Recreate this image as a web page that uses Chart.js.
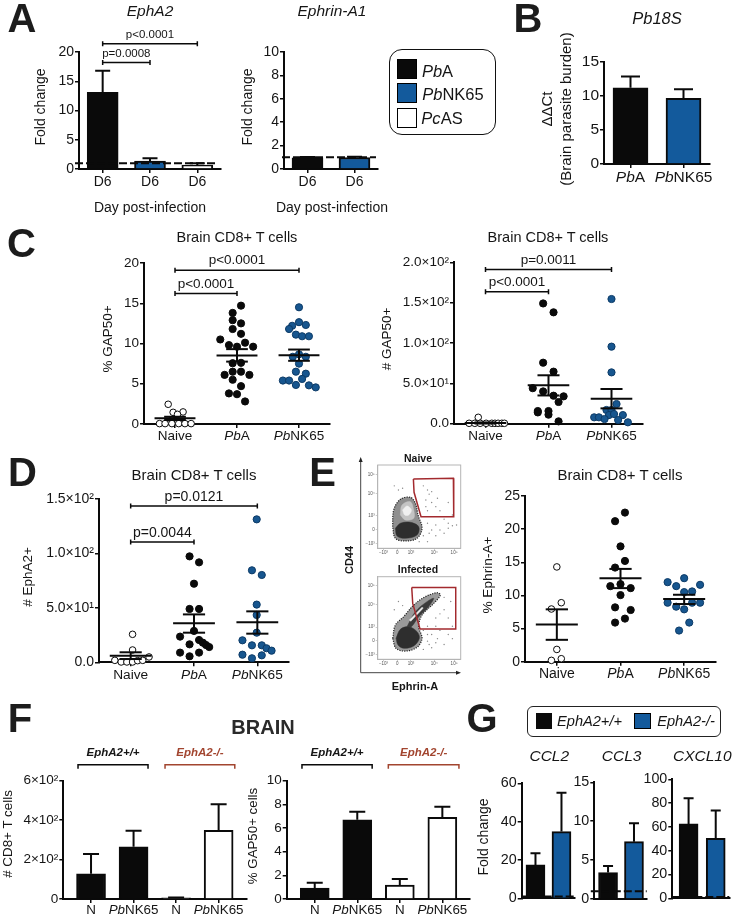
<!DOCTYPE html>
<html><head><meta charset="utf-8">
<script src="https://cdn.jsdelivr.net/npm/chart.js@4/dist/chart.umd.js"></script>
<style>
html,body{margin:0;padding:0;background:#fff;width:733px;height:916px;overflow:hidden}
body{position:relative;font-family:'Liberation Sans',Arial,sans-serif;color:#151515}
canvas{position:absolute;left:0;top:0;pointer-events:none}
.t{position:absolute;white-space:nowrap;line-height:1;z-index:5}
.box{position:absolute;box-sizing:border-box;z-index:4}
</style></head><body>
<script>
/* ---------- categories ---------- */
const dayCats3=['D6','D6','D6'], dayCats2=['D6','D6'];
const strainCats=['*Pb*A','*Pb*NK65'];
const groupCats=['Naive','*Pb*A','*Pb*NK65'];
const brainCats=['N','*Pb*NK65','N','*Pb*NK65'];
/* ---------- A ---------- */
const ephA2Vals=[13.1,1.36,0.68], ephA2Err=[16.8,1.82,0.97];
const ephrinA1Vals=[0.95,0.98], ephrinA1Err=[1.02,1.05];
/* ---------- B ---------- */
const pb18sVals=[11.2,9.65], pb18sErr=[12.85,11.0];
/* ---------- C left: % GAP50+ ---------- */
const pctNaive=[2.45,1.45,1.5,1.2,0.5,0.05,0.05,0.05,0.05,0.05,0.05];
const pctNaiveJit=[-.11,-.03,.13,.04,-.05,-.25,-.16,-.05,.06,.16,.26];
const pctPbA=[14.7,13.8,12.9,12.5,11.8,11.2,10.5,10.1,9.8,9.6,9.6,7.55,7.6,6.5,6.5,6.1,6.1,5.5,4.7,3.8,3.7,2.8];
const pctPbAJit=[.065,-.07,-.07,.065,-.07,.065,-.27,.13,-.13,0,.26,-.07,.065,-.07,.065,-.2,.2,-.07,.065,-.13,0,.13];
const pctNK=[14.5,12.65,12.3,12.2,11.8,11.1,10.9,10.9,8.35,8.65,8.35,7.5,6.5,6.25,5.6,5.4,5.4,4.85,4.8,4.55];
const pctNKJit=[0,0,.11,-.11,-.16,-.05,.05,.16,-.1,0,.11,0,-.05,.11,.05,-.26,-.16,-.05,.16,.27];
const pctMean=[0.7,8.5,8.55], pctLow=[0.5,7.75,7.85], pctHigh=[0.9,9.3,9.25];
/* ---------- C right: # GAP50+ ---------- */
const numNaive=[7.9,.5,.5,.5,.5,.5,.5,.5,.5,.5];
const numNaiveJit=[-.115,-.26,-.17,-.085,.01,.1,.15,.2,.26,.3];
const numPbA=[149,138,75.6,64.5,44,40,34.7,33.9,26.9,15.7,14,15.7,11.2,2.9];
const numPbAJit=[-.085,.08,-.085,.08,-.25,-.085,.08,.24,.16,-.17,-.17,0,0,.16];
const numNK=[154.5,95.5,63.6,24.4,17,17,10.7,12,10.7,7.9,7.9,5.8,4.5,1.7];
const numNKJit=[0,0,0,.08,-.08,0,-.04,.04,.18,-.275,-.2,-.11,.105,.26];
const numMean=[0.9,47.5,31], numLow=[0.2,35,19], numHigh=[1.6,60,43];
const sci2Labels=['0.0','5.0×10¹','1.0×10²','1.5×10²','2.0×10²'];
/* ---------- D: # EphA2+ ---------- */
const ephNaive=[25.7,11.3,4.9,1.8,.3,.3,.3,1.5,1.8];
const ephNaiveJit=[.03,.03,.29,-.25,-.15,-.06,.03,.11,.19];
const ephPbA=[97.3,91.8,72.2,49,49,28.8,23.6,16.5,20.5,18,15.9,14,8.9,8.9,5.5];
const ephPbAJit=[-.07,.08,0,-.07,.08,0,-.22,-.07,.08,.14,.19,.24,-.22,.08,-.07];
const ephNK=[131.3,84.5,80.2,53,43.5,27.2,20.2,15.6,15.6,12.9,10.7,7,6.4,3.7];
const ephNKJit=[-.01,-.085,.07,-.01,-.01,-.01,-.235,-.085,.07,.145,.225,-.235,.07,-.085];
const ephMean=[6.1,35.8,36.7], ephLow=[3,27.2,26.3], ephHigh=[9.2,44,46.8];
const sci15Labels=['0.0','5.0×10¹','1.0×10²','1.5×10²'];
/* ---------- E: % Ephrin-A+ ---------- */
const efnNaive=[14.3,8.9,7.95,1.85,.45,.2];
const efnNaiveJit=[0,.07,-.085,0,.07,-.085];
const efnPbA=[22.5,21.2,17.4,15.2,14.2,11.7,11.4,11.1,10.05,8.2,7.8,6.5,5.9];
const efnPbAJit=[.07,-.085,0,.07,-.085,0,-.16,.16,0,-.085,.16,.07,-.085];
const efnNK=[12.6,12,11.6,11.4,10.5,10.6,8.9,8.3,7.9,8.9,8.9,5.9,4.7];
const efnNKJit=[0,-.26,.25,-.125,0,.125,-.26,-.125,0,.125,.25,.08,-.08];
const efnMean=[5.63,12.6,9.45], efnLow=[3.3,11.1,8.7], efnHigh=[7.9,14,10.1];
/* ---------- E: flow cytometry gates and contours ---------- */
const flowXLabels=['−10³','0','10³','10⁴','10⁵'], flowYLabels=['−10³','0','10³','10⁴','10⁵'];
const flowXTicks=[7,23.7,40,68,92], flowYTicks=[6,22.8,38.8,66,88.8];
const naiveGate=[[43,83.2],[91.2,84],[91.6,38],[52.2,38],[43.8,67.2],[43,83.2]];
const naiveOuter=[[18,26],[19.3,46],[27.3,58.8],[39.4,61.2],[45.4,54],[48.6,40],[53.4,24],[47.4,12],[33.3,8.8],[21.3,12],[18,26]];
const naiveDark=[[21.3,24],[27.3,30],[39.3,31.2],[49.4,26],[47.4,16],[33.3,12],[23.3,14.8],[21.3,24]];
const naiveUpper=[[27.3,40],[29.3,52],[39.3,56],[43.4,46],[43.4,36],[33.3,34],[27.3,40]];
const naiveInner=[[30,46],[35.3,50.8],[40.6,46],[37.4,40],[32.5,40],[30,46]];
const naiveDots=[[25,70],[20,75],[30,72],[55,75],[60,70],[62,65],[65,68],[58,58],[65,55],[70,50],[75,45],[60,45],[80,35],[85,30],[70,28],[75,22],[85,24],[90,27],[60,30],[65,22],[55,15],[62,18],[70,15],[80,18],[58,50],[72,60],[85,55],[90,40],[95,28],[50,8],[60,8]];
const infGate=[[41,87],[94,87],[94,36.7],[51,36.7],[42.2,67.7],[41,87]];
const infOuter=[[18.1,25.4],[21.3,41.5],[31.3,51.6],[43.4,65.7],[57.4,75.8],[71.5,80.6],[75.5,77.8],[67.5,67.7],[53.4,53.6],[49.4,39.5],[53.4,25.4],[47.4,14.5],[33.3,10],[22.1,13.3],[18.1,25.4]];
const infDark=[[22.1,25.4],[27.3,36.3],[37.3,39.5],[47.4,33.5],[50.2,25.4],[43.4,16.1],[31.3,13.3],[24.5,17.3],[22.1,25.4]];
const infBand=[[35.3,39.5],[45.4,57.7],[59.4,69.8],[67.5,73.8],[61.4,63.7],[49.4,51.6],[40.6,39.5],[35.3,39.5]];
const infStreak=[[38.2,47.6],[53.4,62.9],[54.2,61.3],[39.8,46],[38.2,47.6]];
const infDots=[[60,40],[70,50],[80,60],[85,50],[75,35],[65,30],[85,30],[90,25],[60,22],[70,20],[80,18],[55,12],[65,14],[88,70],[80,75],[25,70],[30,65],[20,60],[60,30],[70,40],[55,35],[75,55],[90,40],[62,18],[72,25]];
/* ---------- F ---------- */
const cd8Vals=[128,265,6,348], cd8Err=[228,346,8,480];
const cd8Labels=['0','2×10²','4×10²','6×10²'];
const gapVals=[0.93,6.7,1.18,6.9], gapErr=[1.38,7.38,1.69,7.8];
/* ---------- G ---------- */
const ccl2Vals=[17.4,34.8], ccl2Err=[23.5,55.1];
const ccl3Vals=[3.4,7.37], ccl3Err=[4.25,9.73];
const cxcl10Vals=[62.5,50.4], cxcl10Err=[84,73.7];

/* ---------- styling ---------- */
const FONT="'Liberation Sans',Arial,sans-serif";
const BLACK='#0a0a0a', BLUE='#135a9c', WHITE='#ffffff', DOTBLUE='#17568f';
const INK='#151515', RED='#a2452f';

function label(x,y,html,o={}){
  const d=document.createElement('div');d.className='t';d.innerHTML=html;
  d.style.left=x+'px';d.style.top=y+'px';
  d.style.fontSize=(o.size||14)+'px';
  if(o.weight)d.style.fontWeight=o.weight;
  if(o.italic)d.style.fontStyle='italic';
  if(o.color)d.style.color=o.color;
  d.style.transform='translate(-50%,-50%)'+(o.rot?` rotate(${o.rot}deg)`:'');
  document.body.appendChild(d);
}
function box(x,y,w,h,o={}){
  const d=document.createElement('div');d.className='box';
  Object.assign(d.style,{left:x+'px',top:y+'px',width:w+'px',height:h+'px',
    background:o.bg||'transparent',border:o.border||'none',borderRadius:(o.radius||0)+'px'});
  document.body.appendChild(d);
}
function richText(ctx,str,cx,cy,size){
  const parts=str.split('*').map((s,i)=>({s,it:i%2===1})).filter(p=>p.s);
  let w=0;parts.forEach(p=>{ctx.font=`${p.it?'italic ':''}${size}px ${FONT}`;p.w=ctx.measureText(p.s).width;w+=p.w});
  let x=cx-w/2;ctx.textAlign='left';ctx.textBaseline='middle';ctx.fillStyle=INK;
  parts.forEach(p=>{ctx.font=`${p.it?'italic ':''}${size}px ${FONT}`;ctx.fillText(p.s,x,cy);x+=p.w});
}
function deco(spec){return{id:'deco',afterDraw(chart){
  const {ctx,scales:{x,y},chartArea:ca}=chart;ctx.save();
  ctx.strokeStyle=BLACK;ctx.lineCap='butt';
  if(spec.frame){ctx.strokeStyle='#b5b5b5';ctx.lineWidth=1;ctx.strokeRect(ca.left,ca.top,ca.right-ca.left,ca.bottom-ca.top);ctx.strokeStyle=BLACK}
  (spec.err||[]).forEach((v,i)=>{
    const px=x.getPixelForValue(i),p0=y.getPixelForValue(spec.vals[i]),p1=y.getPixelForValue(v);
    ctx.lineWidth=2;ctx.beginPath();ctx.moveTo(px,p0);ctx.lineTo(px,p1);
    ctx.moveTo(px-spec.cap,p1);ctx.lineTo(px+spec.cap,p1);ctx.stroke();
  });
  if(spec.ref){ctx.setLineDash([8,3]);ctx.lineWidth=2;const p=y.getPixelForValue(spec.ref.y);
    ctx.beginPath();ctx.moveTo(ca.left+spec.ref.l,p);ctx.lineTo(ca.right+spec.ref.r,p);ctx.stroke();ctx.setLineDash([])}
  if(spec.stats){spec.stats.mean.forEach((m,i)=>{ctx.lineWidth=2;
    const h=(a,b,v)=>{ctx.beginPath();ctx.moveTo(x.getPixelForValue(i+a),y.getPixelForValue(v));ctx.lineTo(x.getPixelForValue(i+b),y.getPixelForValue(v));ctx.stroke()};
    h(-.33,.33,m);h(-.175,.175,spec.stats.low[i]);h(-.175,.175,spec.stats.high[i]);
    const px=x.getPixelForValue(i);ctx.beginPath();ctx.moveTo(px,y.getPixelForValue(spec.stats.low[i]));ctx.lineTo(px,y.getPixelForValue(spec.stats.high[i]));ctx.stroke();
  })}
  (spec.brackets||[]).forEach(b=>{
    const xa=x.getPixelForValue(b.a),xb=x.getPixelForValue(b.b),py=y.getPixelForValue(b.y);
    ctx.strokeStyle=b.color||BLACK;ctx.lineWidth=1.5;ctx.beginPath();
    if(b.group){ctx.moveTo(xa,py+4);ctx.lineTo(xa,py);ctx.lineTo(xb,py);ctx.lineTo(xb,py+4)}
    else{ctx.moveTo(xa,py-2.5);ctx.lineTo(xa,py+2.5);ctx.moveTo(xa,py);ctx.lineTo(xb,py);ctx.moveTo(xb,py-2.5);ctx.lineTo(xb,py+2.5)}
    ctx.stroke();
    ctx.fillStyle=b.color||INK;ctx.textAlign='center';ctx.textBaseline='middle';
    ctx.font=`${b.group?'italic bold ':''}${b.size}px ${FONT}`;
    ctx.fillText(b.text,(xa+xb)/2+(b.shift||0),py-b.dy);
  });
  if(spec.cats)spec.cats.forEach((c,i)=>richText(ctx,c,x.getPixelForValue(i),ca.bottom+spec.catDy,spec.catSize));
  ctx.restore();
}}}
function baseOpts(rect,o){
  const [l,t,r,b]=rect;
  return{responsive:false,animation:false,maintainAspectRatio:false,
    layout:{padding:{left:0,top:t,right:733-r,bottom:0}},
    plugins:{legend:{display:false},tooltip:{enabled:false},title:{display:false}},
    scales:{
      x:{type:'linear',min:o.xmin,max:o.xmax,offset:false,
        afterBuildTicks:s=>{s.ticks=(o.xTicks||[]).map(v=>({value:v}))},
        afterFit:s=>{s.height=916-b},
        border:{color:o.axis||BLACK,width:o.axisW||2},
        grid:{offset:false,drawOnChartArea:false,drawTicks:o.noXTicks?false:true,tickLength:o.xTickLen||4,color:o.axis||BLACK,lineWidth:o.tickW||1.5},
        ticks:o.xLabels?{display:true,autoSkip:false,maxRotation:0,font:{size:o.tickFont,family:FONT},color:'#555',padding:0,callback:(v,i)=>o.xLabels[i]}:{display:false}},
      y:{type:'linear',min:0,max:o.ymax,
        afterBuildTicks:s=>{s.ticks=o.yTicks.map(v=>({value:v}))},
        afterFit:s=>{s.width=l},
        border:{color:o.axis||BLACK,width:o.axisW||2},
        grid:{drawOnChartArea:false,drawTicks:true,tickLength:o.yTickLen||4,color:o.axis||BLACK,lineWidth:o.tickW||1.5},
        ticks:{autoSkip:false,font:{size:o.tickFont,family:FONT},color:o.tickColor||INK,padding:o.tickPad??1,
          callback:(v,i)=>o.yLabels?o.yLabels[i]:String(v)}}
    }};
}
function mkCanvas(){const c=document.createElement('canvas');c.width=733;c.height=916;c.style.width='733px';c.style.height='916px';document.body.appendChild(c);return c}

function barChart(o){
  const n=o.vals.length;
  new Chart(mkCanvas(),{type:'bar',
    data:{datasets:[{data:o.vals.map((v,i)=>({x:i,y:v})),backgroundColor:o.colors,borderColor:BLACK,borderWidth:2,barThickness:o.thick,borderSkipped:'bottom'}]},
    options:baseOpts(o.rect,{xmin:o.xmin??-.5,xmax:o.xmax??n-.5,xTicks:o.noXTicks?[]:[...Array(n).keys()],noXTicks:o.noXTicks,ymax:o.ymax,yTicks:o.yTicks,yLabels:o.yLabels,tickFont:o.tickFont}),
    plugins:[deco({err:o.err,vals:o.vals,cap:o.cap,ref:o.ref,brackets:o.brackets,cats:o.cats,catDy:o.catDy,catSize:o.catSize})]});
}
function dotChart(o){
  const ds=o.groups.map((g,i)=>({data:g.vals.map((v,k)=>({x:i+g.jit[k],y:v})),
    backgroundColor:g.fill,borderColor:g.edge,borderWidth:1,pointRadius:g.r,clip:false}));
  new Chart(mkCanvas(),{type:'scatter',data:{datasets:ds},
    options:baseOpts(o.rect,{xmin:-.5,xmax:2.5,xTicks:[0,1,2],ymax:o.ymax,yTicks:o.yTicks,yLabels:o.yLabels,tickFont:o.tickFont}),
    plugins:[deco({stats:o.stats,brackets:o.brackets,cats:o.cats,catDy:o.catDy,catSize:o.catSize})]});
}
const naiveStyle={fill:WHITE,edge:BLACK,r:3.3}, pbaStyle={fill:BLACK,edge:BLACK,r:3.6}, nkStyle={fill:DOTBLUE,edge:'#0c3a66',r:3.6};
const poly=(pts,fill,tension=.35,edge)=>({data:pts.map(p=>({x:p[0],y:p[1]})),showLine:true,fill:'shape',backgroundColor:fill,borderColor:edge||fill,borderWidth:edge?1.2:.5,borderDash:edge?[1.2,1.2]:[],pointRadius:0,tension,clip:false});
function flowChart(rect,shapes,gate,dots){
  /* Chart.js paints the first dataset last, so the list runs top layer first */
  const ds=[{data:gate.map(p=>({x:p[0],y:p[1]})),showLine:true,borderColor:'#a32a2e',borderWidth:1.5,pointRadius:0,backgroundColor:'transparent',fill:false},
    ...shapes,
    {data:dots.map(p=>({x:p[0],y:p[1]})),backgroundColor:'#8a8a8a',borderColor:'#8a8a8a',pointRadius:.7,borderWidth:0}];
  new Chart(mkCanvas(),{type:'scatter',data:{datasets:ds},
    options:baseOpts(rect,{xmin:0,xmax:100,xTicks:flowXTicks,xLabels:flowXLabels,ymax:100,yTicks:flowYTicks,yLabels:flowYLabels,tickFont:4.5,axis:'#b5b5b5',axisW:1,tickW:.7,xTickLen:2,yTickLen:2,tickColor:'#555',tickPad:1}),
    plugins:[deco({frame:true})]});
}

/* ---------- Panel letters ---------- */
[['A',22,18],['B',528,18],['C',21.5,242.5],['D',22.5,472],['E',322.5,472],['F',20,718],['G',482,718]]
  .forEach(p=>label(p[1],p[2],p[0],{size:40,weight:'bold',color:'#1c1c1c'}));

/* ---------- A ---------- */
label(150,11,'EphA2',{size:15.5,italic:true});
label(332,11,'Ephrin-A1',{size:15.5,italic:true});
label(40,106.7,'Fold change',{size:14,rot:-90});
label(246.7,106.7,'Fold change',{size:14,rot:-90});
label(150,206.7,'Day post-infection',{size:14});
label(332,206.7,'Day post-infection',{size:14});
barChart({rect:[79,52,221,169],vals:ephA2Vals,err:ephA2Err,colors:[BLACK,BLUE,WHITE],thick:31,cap:7.5,ymax:20,yTicks:[0,5,10,15,20],tickFont:14,
  ref:{y:1,l:-4,r:-3},cats:dayCats3,catDy:12.7,catSize:14,
  brackets:[{a:0,b:1,y:18.2,text:'p=0.0008',dy:9,size:11.5},{a:0,b:2,y:21.4,text:'p<0.0001',dy:9,size:11.5}]});
barChart({rect:[284,52,378,169],vals:ephrinA1Vals,err:ephrinA1Err,colors:[BLACK,BLUE],thick:31,cap:7.5,ymax:10,yTicks:[0,2,4,6,8,10],tickFont:14,
  ref:{y:1,l:-2,r:-2},cats:dayCats2,catDy:12.7,catSize:14});

/* ---------- Legend ---------- */
box(389,49,107,86,{border:'1.5px solid #111',radius:13});
box(397,59,19.5,19.5,{bg:BLACK,border:'1px solid #000'});
box(397,83,19.5,20,{bg:BLUE,border:'1.5px solid #000'});
box(397,108,19.5,19.5,{bg:WHITE,border:'1.5px solid #000'});
label(437.5,71,'<i>Pb</i>A',{size:16.5});
label(453,94,'<i>Pb</i>NK65',{size:16.5});
label(442,118,'<i>Pc</i>AS',{size:16.5});

/* ---------- B ---------- */
label(657,18,'Pb18S',{size:16.5,italic:true});
label(546,109,'ΔΔCt',{size:15,rot:-90});
label(565,109,'(Brain parasite burden)',{size:15,rot:-90});
barChart({rect:[604,62,710,164],vals:pb18sVals,err:pb18sErr,colors:[BLACK,BLUE],thick:35,cap:9.5,ymax:15,yTicks:[0,5,10,15],tickFont:15.5,
  cats:strainCats,catDy:14,catSize:15.5});

/* ---------- C ---------- */
label(237,237,'Brain CD8+ T cells',{size:14.5});
label(548,237,'Brain CD8+ T cells',{size:14.5});
label(108,339,'% GAP50+',{size:13.5,rot:-90});
label(387,339,'# GAP50+',{size:13.5,rot:-90});
dotChart({rect:[144,263,330,424],ymax:20,yTicks:[0,5,10,15,20],tickFont:13.5,cats:groupCats,catDy:12.7,catSize:13.5,
  groups:[{vals:pctNaive,jit:pctNaiveJit,...naiveStyle},{vals:pctPbA,jit:pctPbAJit,...pbaStyle},{vals:pctNK,jit:pctNKJit,...nkStyle}],
  stats:{mean:pctMean,low:pctLow,high:pctHigh},
  brackets:[{a:0,b:1,y:16.2,text:'p<0.0001',dy:9.5,size:13.5},{a:0,b:2,y:19.1,text:'p<0.0001',dy:9.5,size:13.5}]});
dotChart({rect:[454,262.3,643,423.7],ymax:200,yTicks:[0,50,100,150,200],yLabels:sci2Labels,tickFont:13.5,cats:groupCats,catDy:12.7,catSize:13.5,
  groups:[{vals:numNaive,jit:numNaiveJit,...naiveStyle},{vals:numPbA,jit:numPbAJit,...pbaStyle},{vals:numNK,jit:numNKJit,...nkStyle}],
  stats:{mean:numMean,low:numLow,high:numHigh},
  brackets:[{a:0,b:1,y:163.6,text:'p<0.0001',dy:9,size:13.5},{a:0,b:2,y:191,text:'p=0.0011',dy:9.5,size:13.5}]});

/* ---------- D ---------- */
label(194,474,'Brain CD8+ T cells',{size:15});
label(28,577,'# EphA2+',{size:13.5,rot:-90});
dotChart({rect:[99,499,289,662.3],ymax:150,yTicks:[0,50,100,150],yLabels:sci15Labels,tickFont:14,cats:groupCats,catDy:12.7,catSize:13.7,
  groups:[{vals:ephNaive,jit:ephNaiveJit,...naiveStyle},{vals:ephPbA,jit:ephPbAJit,...pbaStyle},{vals:ephNK,jit:ephNKJit,...nkStyle}],
  stats:{mean:ephMean,low:ephLow,high:ephHigh},
  brackets:[{a:0,b:1,y:110.5,text:'p=0.0044',dy:8.7,size:14},{a:0,b:2,y:143.5,text:'p=0.0121',dy:9,size:14}]});

/* ---------- E flow ---------- */
label(418,458,'Naive',{size:10.5,weight:'bold'});
label(418,569,'Infected',{size:10.5,weight:'bold'});
label(349,560,'CD44',{size:11,weight:'bold',rot:-90});
label(415,686,'Ephrin-A',{size:11,weight:'bold'});
flowChart([377.7,465,460.7,548.3],[poly(naiveInner,'#f0f0f0'),poly(naiveUpper,'#c4c4c4'),poly(naiveDark,'#2e2e2e'),poly(naiveOuter,'#8f8f8f',.35,'#222')],naiveGate,naiveDots);
flowChart([377.7,576.7,460.7,659.3],[poly(infStreak,'#eeeeee',0),poly(infBand,'#3a3a3a'),poly(infDark,'#2e2e2e'),poly(infOuter,'#9a9a9a',.35,'#222')],infGate,infDots);
document.body.insertAdjacentHTML('beforeend',`<svg style="position:absolute;left:0;top:0;z-index:3" width="733" height="916">
<path d="M360.7 672.7V461M360.7 672.7H457" stroke="#444" stroke-width="1" fill="none"/>
<path d="M360.7 457l-2 5h4zM461 672.7l-5-2v4z" fill="#222"/></svg>`);

/* ---------- E right ---------- */
label(620,474,'Brain CD8+ T cells',{size:15});
label(488,575,'% Ephrin-A+',{size:13.7,rot:-90});
dotChart({rect:[525,496,716,661.7],ymax:25,yTicks:[0,5,10,15,20,25],tickFont:14,cats:groupCats,catDy:12.6,catSize:14,
  groups:[{vals:efnNaive,jit:efnNaiveJit,...naiveStyle},{vals:efnPbA,jit:efnPbAJit,...pbaStyle},{vals:efnNK,jit:efnNKJit,...nkStyle}],
  stats:{mean:efnMean,low:efnLow,high:efnHigh}});

/* ---------- F ---------- */
label(263,726.7,'BRAIN',{size:20,weight:'bold',color:'#2a2a2a'});
label(7.5,834,'# CD8+ T cells',{size:13.4,rot:-90});
label(253,835.7,'% GAP50+ cells',{size:13.3,rot:-90});
const whiteBars=[BLACK,BLACK,WHITE,WHITE];
barChart({rect:[63.3,780.7,246.7,899],xmin:-.652,xmax:3.66,vals:cd8Vals,err:cd8Err,colors:whiteBars,thick:29,cap:8,ymax:600,yTicks:[0,200,400,600],yLabels:cd8Labels,tickFont:13.5,
  cats:brainCats,catDy:11,catSize:13.4,
  brackets:[{a:-.306,b:1.34,y:681,text:'EphA2+/+',dy:12,size:11.5,group:true},{a:1.74,b:3.38,y:681,text:'EphA2-/-',dy:12,size:11.5,group:true,color:RED}]});
barChart({rect:[286.7,780.7,470,899],xmin:-.659,xmax:3.65,vals:gapVals,err:gapErr,colors:whiteBars,thick:29,cap:8,ymax:10,yTicks:[0,2,4,6,8,10],tickFont:13.5,
  cats:brainCats,catDy:11,catSize:13.4,
  brackets:[{a:-.3,b:1.35,y:11.35,text:'EphA2+/+',dy:12,size:11.5,group:true},{a:1.73,b:3.39,y:11.35,text:'EphA2-/-',dy:12,size:11.5,group:true,color:RED}]});

/* ---------- G ---------- */
box(526.7,705.7,194,31,{border:'1px solid #222',radius:6});
box(535.7,713,16,16,{bg:BLACK});
box(634.3,713,16.7,16,{bg:BLUE,border:'1px solid #000'});
label(589.5,721,'EphA2+/+',{size:14.6,italic:true});
label(686,721,'EphA2-/-',{size:14.6,italic:true});
label(549.3,755.7,'CCL2',{size:15.5,italic:true});
label(621.7,755.7,'CCL3',{size:15.5,italic:true});
label(702.3,755.7,'CXCL10',{size:15.5,italic:true});
label(483.3,836.7,'Fold change',{size:14,rot:-90});
barChart({rect:[521.7,783.3,575,898.3],xmin:-.53,xmax:1.52,noXTicks:true,vals:ccl2Vals,err:ccl2Err,colors:[BLACK,BLUE],thick:19,cap:5,ymax:60,yTicks:[0,20,40,60],tickFont:14.3,ref:{y:1,l:0,r:0}});
barChart({rect:[594.3,782.3,646.7,899],xmin:-.53,xmax:1.49,noXTicks:true,vals:ccl3Vals,err:ccl3Err,colors:[BLACK,BLUE],thick:19,cap:5,ymax:15,yTicks:[0,5,10,15],tickFont:14.3,ref:{y:1,l:-3.5,r:0}});
barChart({rect:[672.3,779.3,729.3,898.3],xmin:-.6,xmax:1.5,noXTicks:true,vals:cxcl10Vals,err:cxcl10Err,colors:[BLACK,BLUE],thick:19,cap:5,ymax:100,yTicks:[0,20,40,60,80,100],tickFont:14.3,ref:{y:1,l:0,r:0}});
</script>
</body></html>
